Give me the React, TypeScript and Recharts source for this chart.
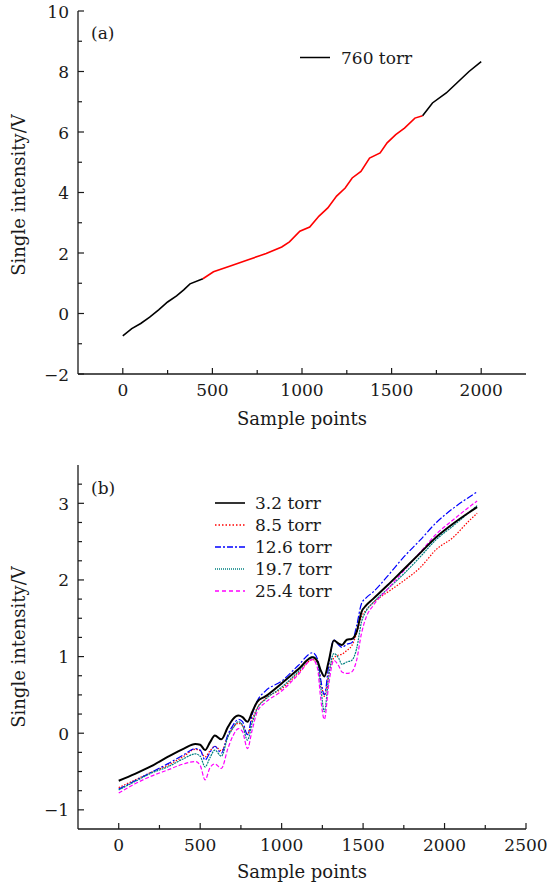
import React from "react"
import { LineChart, Line, XAxis, YAxis } from "recharts"

const FONT = "DejaVu Serif, serif"
const INK = "#1a1a1a"

// panel (a): 760 torr, sample index vs voltage
const samplesA = [0, 50, 100, 150, 200, 250, 300, 340, 375, 447, 506, 600, 700, 800, 887, 930, 988, 1043, 1095, 1144, 1193, 1241, 1280, 1329, 1377, 1436, 1475, 1523, 1572, 1630, 1673, 1728, 1805, 1864, 1932, 2000]
const voltsA = [-0.74, -0.5, -0.33, -0.12, 0.12, 0.38, 0.58, 0.78, 0.98, 1.15, 1.38, 1.57, 1.78, 1.98, 2.2, 2.37, 2.72, 2.86, 3.22, 3.49, 3.88, 4.15, 4.48, 4.7, 5.14, 5.31, 5.64, 5.91, 6.13, 6.46, 6.54, 6.96, 7.29, 7.62, 8.0, 8.33]
const redFrom = 447
const redTo = 1673

// panel (b): five pressures
const samplesB = [0, 100, 200, 300, 400, 470, 500, 530, 560, 590, 630, 670, 700, 735, 760, 790, 820, 850, 900, 1000, 1100, 1190, 1220, 1240, 1262, 1290, 1320, 1350, 1370, 1400, 1430, 1460, 1490, 1520, 1560, 1650, 1750, 1850, 1950, 2050, 2150, 2200]
const torr32 = [-0.62, -0.53, -0.43, -0.31, -0.2, -0.14, -0.15, -0.22, -0.12, -0.03, -0.08, 0.08, 0.18, 0.23, 0.21, 0.15, 0.28, 0.41, 0.48, 0.65, 0.83, 0.99, 0.94, 0.82, 0.74, 0.95, 1.21, 1.17, 1.15, 1.22, 1.23, 1.32, 1.58, 1.67, 1.75, 1.93, 2.14, 2.35, 2.56, 2.73, 2.88, 2.95]
const torr85 = [-0.71, -0.61, -0.51, -0.42, -0.3, -0.21, -0.23, -0.31, -0.23, -0.17, -0.23, -0.04, 0.07, 0.13, 0.1, -0.01, 0.18, 0.33, 0.45, 0.58, 0.78, 0.96, 0.92, 0.68, 0.48, 0.8, 0.98, 1.02, 1.03, 1.08, 1.14, 1.3, 1.52, 1.61, 1.7, 1.84, 1.99, 2.16, 2.4, 2.55, 2.77, 2.87]
const torr126 = [-0.73, -0.62, -0.51, -0.4, -0.28, -0.2, -0.22, -0.35, -0.25, -0.17, -0.26, -0.02, 0.1, 0.18, 0.15, -0.02, 0.25, 0.42, 0.55, 0.68, 0.88, 1.05, 0.97, 0.7, 0.5, 0.9, 1.22, 1.15, 1.12, 1.16, 1.18, 1.4, 1.69, 1.77, 1.84, 2.05, 2.3, 2.52, 2.75, 2.93, 3.08, 3.15]
const torr197 = [-0.74, -0.63, -0.52, -0.44, -0.33, -0.27, -0.3, -0.44, -0.32, -0.22, -0.3, -0.05, 0.06, 0.15, 0.1, -0.09, 0.14, 0.32, 0.44, 0.6, 0.8, 1.0, 0.92, 0.6, 0.28, 0.75, 1.04, 0.98, 0.9, 0.93, 0.95, 1.1, 1.45, 1.6, 1.7, 1.88, 2.08, 2.3, 2.53, 2.7, 2.88, 2.97]
const torr254 = [-0.78, -0.66, -0.56, -0.48, -0.4, -0.37, -0.42, -0.61, -0.45, -0.4, -0.46, -0.2, -0.04, 0.06, 0.02, -0.2, 0.05, 0.28, 0.4, 0.55, 0.76, 0.96, 0.85, 0.45, 0.18, 0.65, 0.95, 0.88, 0.8, 0.78, 0.8, 0.95, 1.3, 1.52, 1.66, 1.88, 2.12, 2.36, 2.6, 2.78, 2.95, 3.03]

const xTicksA = [0, 250, 500, 750, 1000, 1250, 1500, 1750, 2000]
const xMajorA = [0, 500, 1000, 1500, 2000]
const yTicksA = [-2, -1, 0, 1, 2, 3, 4, 5, 6, 7, 8, 9, 10]
const yMajorA = [-2, 0, 2, 4, 6, 8, 10]
const xTicksB = [0, 250, 500, 750, 1000, 1250, 1500, 1750, 2000, 2250, 2500]
const xMajorB = [0, 500, 1000, 1500, 2000, 2500]
const yTicksB = [-1, -0.75, -0.5, -0.25, 0, 0.25, 0.5, 0.75, 1, 1.25, 1.5, 1.75, 2, 2.25, 2.5, 2.75, 3, 3.25]
const yMajorB = [-1, 0, 1, 2, 3]

const rowsA = samplesA.map((x, i) => ({
	x,
	black1: x <= redFrom ? voltsA[i] : undefined,
	red: x >= redFrom && x <= redTo ? voltsA[i] : undefined,
	black2: x >= redTo ? voltsA[i] : undefined,
}))

const rowsB = samplesB.map((x, i) => ({
	x,
	t32: torr32[i],
	t85: torr85[i],
	t126: torr126[i],
	t197: torr197[i],
	t254: torr254[i],
}))

const seriesB = [
	{ key: "t85", name: "8.5 torr", color: "#ff0000", width: 1.2, dash: "1.5 1.5", legendDash: "1.5 2" },
	{ key: "t126", name: "12.6 torr", color: "#0000ff", width: 1.2, dash: "7 2 2 2", legendDash: "6 2 2 2" },
	{ key: "t197", name: "19.7 torr", color: "#008080", width: 1.2, dash: "2 0.8", legendDash: "1 1" },
	{ key: "t254", name: "25.4 torr", color: "#ff00ff", width: 1.2, dash: "4 2", legendDash: "4 3" },
	{ key: "t32", name: "3.2 torr", color: "#000000", width: 2, dash: undefined, legendDash: undefined },
]
const legendOrder = ["t32", "t85", "t126", "t197", "t254"]

const fmt = (v: number) => (v < 0 ? "\u2212" + Math.abs(v) : String(v))
const axisLine = { stroke: INK, strokeWidth: 1.3 }
const serif = { fontFamily: FONT }

// inward tick marks, labels only on the major values
const makeXTick = (majors: number[]) => (props: any) => {
	const { x, y, payload } = props
	const major = majors.includes(payload.value)
	return (
		<g>
			<line x1={x} x2={x} y1={y} y2={y - (major ? 6 : 4)} stroke={INK} strokeWidth={1.2} />
			{major && (
				<text x={x} y={y + 22} textAnchor="middle" style={serif} fontSize={17} fill={INK}>
					{fmt(payload.value)}
				</text>
			)}
		</g>
	)
}

const makeYTick = (majors: number[]) => (props: any) => {
	const { x, y, payload } = props
	const major = majors.includes(payload.value)
	return (
		<g>
			<line x1={x} x2={x + (major ? 6 : 4)} y1={y} y2={y} stroke={INK} strokeWidth={1.2} />
			{major && (
				<text x={x - 9} y={y + 6.5} textAnchor="end" style={serif} fontSize={17} fill={INK}>
					{fmt(payload.value)}
				</text>
			)}
		</g>
	)
}

const Overlay = () => {
	const txt = { style: serif, fill: INK }
	return (
		<svg width={547} height={886} style={{ position: "absolute", left: 0, top: 0, pointerEvents: "none" }}>
			{/* axis titles */}
			<text x={302} y={425} textAnchor="middle" fontSize={18} {...txt}>
				Sample points
			</text>
			<text x={302} y={878} textAnchor="middle" fontSize={18} {...txt}>
				Sample points
			</text>
			<text transform="translate(25,195) rotate(-90)" textAnchor="middle" fontSize={18} {...txt}>
				Single intensity/V
			</text>
			<text transform="translate(25,647) rotate(-90)" textAnchor="middle" fontSize={18} {...txt}>
				Single intensity/V
			</text>
			{/* panel tags */}
			<text x={91} y={39} fontSize={17} {...txt}>(a)</text>
			<text x={91} y={494} fontSize={17} {...txt}>(b)</text>
			{/* legend (a) */}
			<line x1={300} x2={330} y1={57.5} y2={57.5} stroke="#000" strokeWidth={1.5} />
			<text x={341} y={63.5} fontSize={17} {...txt}>760 torr</text>
			{/* legend (b) */}
			{legendOrder.map((k, i) => {
				const s = seriesB.find((d) => d.key === k)!
				const cy = 503 + i * 22
				return (
					<g key={k}>
						<line x1={215} x2={245} y1={cy} y2={cy} stroke={s.color} strokeWidth={k === "t32" ? 1.6 : 1.3} strokeDasharray={s.legendDash} />
						<text x={255} y={cy + 6} fontSize={17} {...txt}>{s.name}</text>
					</g>
				)
			})}
		</svg>
	)
}

export default function App() {
	return (
		<div style={{ position: "absolute", left: 0, top: 0, width: 547, height: 886, background: "#fff" }}>
			<div style={{ position: "absolute", left: 0, top: 0 }}>
				<LineChart width={547} height={430} data={rowsA} margin={{ top: 11, right: 21, bottom: 0, left: 0 }}>
					<XAxis dataKey="x" type="number" domain={[-250, 2250]} allowDataOverflow ticks={xTicksA} interval={0} height={56}
						tickSize={0} tickMargin={0} tickLine={false} tick={makeXTick(xMajorA)} axisLine={axisLine} />
					<XAxis xAxisId="top" orientation="top" dataKey="x" type="number" domain={[-250, 2250]} height={0}
						tick={false} tickLine={false} axisLine={axisLine} />
					<YAxis type="number" domain={[-2, 10]} allowDataOverflow ticks={yTicksA} interval={0} width={78}
						tickSize={0} tickMargin={0} tickLine={false} tick={makeYTick(yMajorA)} axisLine={axisLine} />
					<YAxis yAxisId="right" orientation="right" type="number" domain={[-2, 10]} width={0}
						tick={false} tickLine={false} axisLine={axisLine} />
					<Line type="linear" dataKey="black1" stroke="#000" strokeWidth={1.6} dot={false} activeDot={false} isAnimationActive={false} />
					<Line type="linear" dataKey="red" stroke="#ff0000" strokeWidth={1.6} dot={false} activeDot={false} isAnimationActive={false} />
					<Line type="linear" dataKey="black2" stroke="#000" strokeWidth={1.6} dot={false} activeDot={false} isAnimationActive={false} />
				</LineChart>
			</div>
			<div style={{ position: "absolute", left: 0, top: 430 }}>
				<LineChart width={547} height={456} data={rowsB} margin={{ top: 35, right: 21, bottom: 0, left: 0 }}>
					<XAxis dataKey="x" type="number" domain={[-250, 2500]} allowDataOverflow ticks={xTicksB} interval={0} height={57}
						tickSize={0} tickMargin={0} tickLine={false} tick={makeXTick(xMajorB)} axisLine={axisLine} />
					<XAxis xAxisId="top" orientation="top" dataKey="x" type="number" domain={[-250, 2500]} height={0}
						tick={false} tickLine={false} axisLine={axisLine} />
					<YAxis type="number" domain={[-1.25, 3.5]} allowDataOverflow ticks={yTicksB} interval={0} width={78}
						tickSize={0} tickMargin={0} tickLine={false} tick={makeYTick(yMajorB)} axisLine={axisLine} />
					<YAxis yAxisId="right" orientation="right" type="number" domain={[-1.25, 3.5]} width={0}
						tick={false} tickLine={false} axisLine={axisLine} />
					{seriesB.map((s) => (
						<Line key={s.key} type="monotone" dataKey={s.key} stroke={s.color} strokeWidth={s.width}
							strokeDasharray={s.dash} dot={false} activeDot={false} isAnimationActive={false} />
					))}
				</LineChart>
			</div>
			<Overlay />
		</div>
	)
}
